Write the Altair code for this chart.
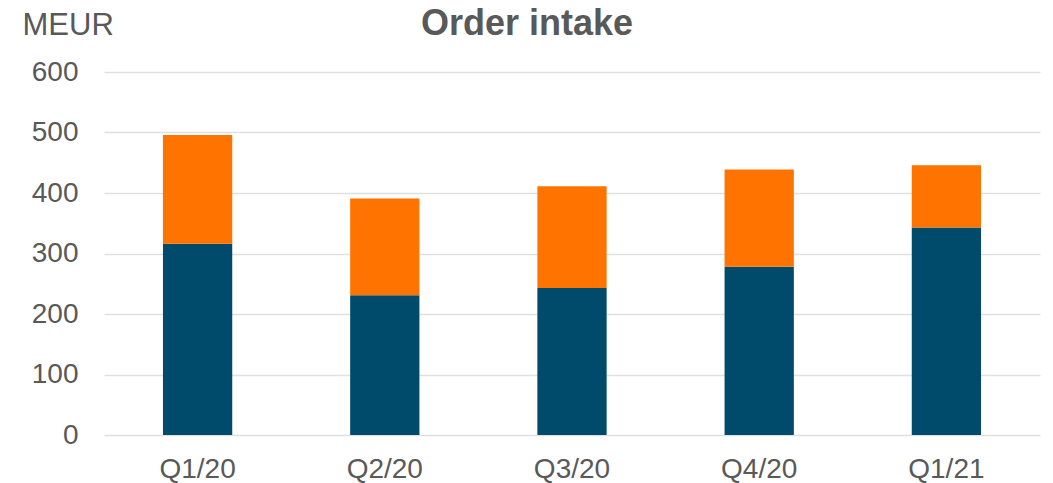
import altair as alt
import pandas as pd

quarters = ["Q1/20", "Q2/20", "Q3/20", "Q4/20", "Q1/21"]
bottom_series = [316, 231, 243, 278, 343]
top_series = [180, 160, 168, 161, 103]
series_names = ["Series 1", "Series 2"]
series_colors = ["#004B6B", "#FF7300"]

rows = []
for q, b, t in zip(quarters, bottom_series, top_series):
    rows.append({"quarter": q, "series": series_names[0], "value": b, "order": 0})
    rows.append({"quarter": q, "series": series_names[1], "value": t, "order": 1})
df = pd.DataFrame(rows)

FONT = "Liberation Sans"
GREY = "#595959"

chart = alt.Chart(df).mark_bar().encode(
    x=alt.X("quarter:N", sort=quarters,
            scale=alt.Scale(paddingInner=0.63, paddingOuter=0.315),
            axis=alt.Axis(title=None, labelAngle=0, labelFontSize=28, labelFont=FONT,
                          labelColor=GREY, ticks=False, domain=False, labelPadding=20)),
    y=alt.Y("value:Q", stack="zero",
            scale=alt.Scale(domain=[0, 600]),
            axis=alt.Axis(values=[0, 100, 200, 300, 400, 500, 600], title="MEUR",
                          titleAngle=0, titleAlign="left", titleBaseline="alphabetic",
                          titleX=-82, titleY=-38, titleFontSize=31, titleFontWeight="normal",
                          titleFont=FONT, titleColor=GREY,
                          labelFontSize=28, labelFont=FONT, labelColor=GREY,
                          ticks=False, domain=False, labelPadding=26,
                          gridColor="#E0E0E0", gridWidth=1.3)),
    color=alt.Color("series:N", scale=alt.Scale(domain=series_names, range=series_colors), legend=None),
    order=alt.Order("order:Q"),
).properties(
    width=936,
    height=363,
    autosize=alt.AutoSizeParams(type="none"),
    padding={"left": 104, "top": 72, "right": 13, "bottom": 48},
    title=alt.TitleParams("Order intake", anchor="middle", dx=-45, dy=34, fontSize=36,
                          font=FONT, fontWeight="bold", color=GREY, offset=0),
).configure_view(stroke=None)

chart.save("out.html", embed_options={"renderer": "svg", "actions": False})
